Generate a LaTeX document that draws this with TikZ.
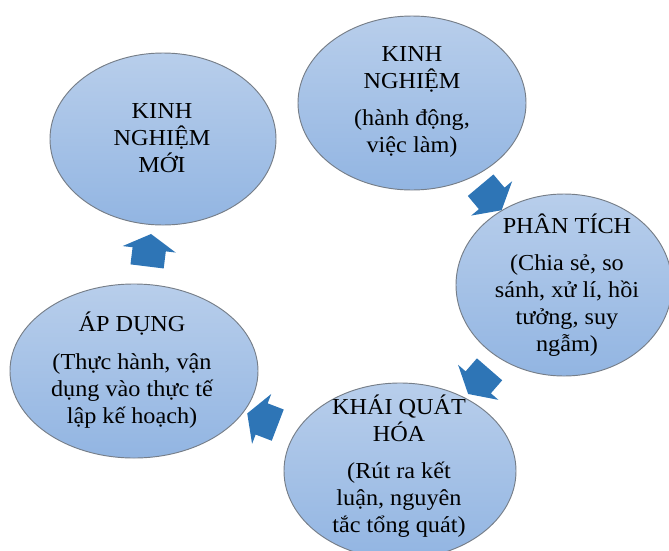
\documentclass[tikz,border=0pt]{standalone}
\usepackage{fontspec}
\setmainfont{Liberation Serif}[FakeStretch=1.06]
\usetikzlibrary{shapes.geometric,shapes.arrows,calc}
\definecolor{ellTop}{RGB}{184,206,235}
\definecolor{ellBot}{RGB}{146,181,226}
\definecolor{ellLine}{RGB}{118,126,136}
\definecolor{arrBlue}{RGB}{46,117,182}

\begin{document}
\begin{tikzpicture}[x=0.03cm, y=-0.03cm,
    bubble/.style={ellipse, draw=ellLine, line width=0.8pt, top color=ellTop, bottom color=ellBot, inner sep=0pt},
    txt/.style={align=center, font=\fontsize{19.5}{23}\selectfont, inner sep=0pt},
    blockarrow/.style={single arrow, fill=arrBlue, minimum height=0.98cm, inner xsep=0pt, inner ysep=0.495cm,
        single arrow head extend=0.3cm, single arrow tip angle=120}
]
    \useasboundingbox (0,0) rectangle (669,550);
    \clip (0,0) rectangle (669,550);

    % Kinh nghiem
    \node[bubble, minimum width=6.84cm, minimum height=5.22cm] (kn) at (412,103) {};
    \node[txt] (kn-t) at (412,102) {KINH\\NGHIỆM\\[9pt](hành động,\\việc làm)};

    % Phan tich
    \node[bubble, minimum width=6.48cm, minimum height=5.46cm] (pt) at (564,285) {};
    \node[txt] (pt-t) at (567,285) {PHÂN TÍCH\\[9pt](Chia sẻ, so\\sánh, xử lí, hồi\\tưởng, suy\\ngẫm)};

    % Khai quat hoa
    \node[bubble, minimum width=6.96cm, minimum height=5.28cm] (kq) at (400,471) {};
    \node[txt] (kq-t) at (399,466) {KHÁI QUÁT\\HÓA\\[9pt](Rút ra kết\\luận, nguyên\\tắc tổng quát)};

    % Ap dung
    \node[bubble, minimum width=7.44cm, minimum height=5.22cm] (ad) at (134,371) {};
    \node[txt] (ad-t) at (132,370) {ÁP DỤNG\\[9pt](Thực hành, vận\\dụng vào thực tế\\lập kế hoạch)};

    % Kinh nghiem moi
    \node[bubble, minimum width=6.78cm, minimum height=5.16cm] (knm) at (163,139) {};
    \node[txt] (knm-t) at (162,138) {KINH\\NGHIỆM\\MỚI};

    % mui ten
    \node[blockarrow, rotate=-50] (a1) at ($(kn)!0.5!(pt)$) {};
    \node[blockarrow, rotate=-131] (a2) at ($(pt)!0.5!(kq)$) {};
    \node[blockarrow, rotate=159] (a3) at ($(kq)!0.5!(ad)$) {};
    \node[blockarrow, rotate=83] (a4) at ($(ad)!0.5!(knm)$) {};
\end{tikzpicture}
\end{document}
